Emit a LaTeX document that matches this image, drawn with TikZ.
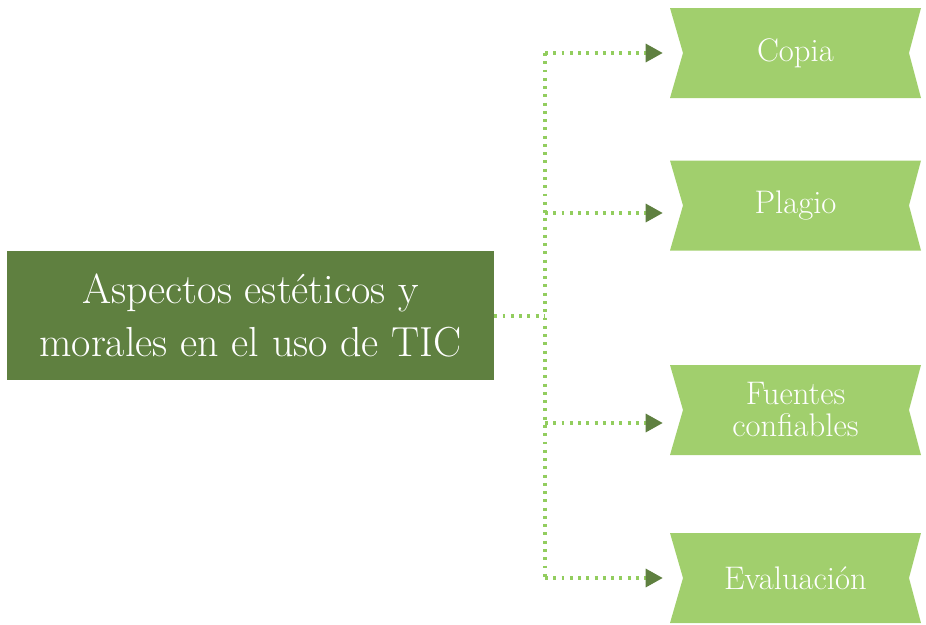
\documentclass[tikz,border=0pt]{standalone}
\usetikzlibrary{arrows.meta}
\definecolor{darkg}{HTML}{5F8040}
\definecolor{lightg}{HTML}{A1CF6D}
\definecolor{dotg}{HTML}{92CD5E}
\tikzset{
  mainbox/.style={rectangle, fill=darkg, text=white, minimum width=487*0.75pt, minimum height=129*0.75pt, inner sep=0pt, align=center, font=\fontsize{31.5}{40}\selectfont},
  banner/.style={rectangle, minimum width=251*0.75pt, minimum height=90*0.75pt, inner sep=0pt, align=center, text=white, font=\fontsize{24.5}{24}\selectfont,
    path picture={\fill[lightg] (path picture bounding box.north west) -- (path picture bounding box.north east)
      -- ([xshift=-12*0.75pt]path picture bounding box.east) -- (path picture bounding box.south east)
      -- (path picture bounding box.south west) -- ([xshift=13*0.75pt]path picture bounding box.west) -- cycle;}},
  dotline/.style={dotg, line width=2.3pt, dash pattern=on 2.2pt off 4pt},
  arr/.style={dotline, -{Triangle[length=17*0.75pt, width=18*0.75pt, color=darkg, fill=darkg]}, shorten >=7*0.75pt}
}
\begin{document}
\begin{tikzpicture}[x=0.75pt, y=-0.75pt]
\useasboundingbox (0,0) rectangle (926,625);
\node[mainbox] (main) at (250.5,315.5) {Aspectos estéticos y\\morales en el uso de TIC};
\node[banner] (copia) at (795.5,53) {Copia};
\node[banner] (plagio) at (795.5,205.5) {Plagio};
\node[banner] (fuentes) at (795.5,410) {Fuentes\\confiables};
\node[banner] (eval) at (795.5,578) {Evaluación};
\coordinate (jtop) at (545,53);
\coordinate (jmain) at (545,316);
\coordinate (jp) at (545,213);
\coordinate (jf) at (545,423);
\coordinate (jbot) at (545,578);
\draw[dotline] (main.east |- jmain) -- (jmain);
\draw[dotline] (jtop) -- (jbot);
\draw[arr] (jtop) -- (copia.west |- jtop);
\draw[arr] (jp) -- (plagio.west |- jp);
\draw[arr] (jf) -- (fuentes.west |- jf);
\draw[arr] (jbot) -- (eval.west |- jbot);
\end{tikzpicture}
\end{document}
